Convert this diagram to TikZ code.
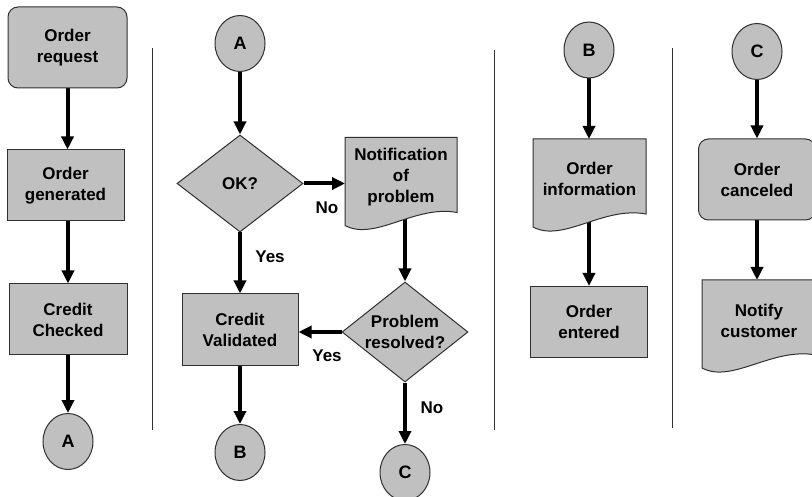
\documentclass[tikz,border=0pt]{standalone}
\usepackage{fontspec}
\setmainfont{Liberation Sans}
\usetikzlibrary{shapes.geometric,arrows.meta,calc}
\pgfdeclarelayer{bg}
\pgfsetlayers{bg,main}
\definecolor{boxfill}{HTML}{C0C0C0}
\definecolor{boxline}{HTML}{303030}
\tikzset{
  txtfont/.style={font=\fontsize{17}{21}\selectfont\bfseries},
  base/.style={fill=boxfill, draw=boxline, line width=1pt, txtfont, align=center, inner sep=0pt},
  procbox/.style={base, rectangle, minimum width=#1, minimum height=71},
  roundbox/.style={base, rectangle, rounded corners=10pt, minimum width=#1, minimum height=81},
  decision/.style={base, diamond, aspect=1.26, inner sep=-6pt, minimum width=126, minimum height=#1},
  connector/.style={base, ellipse, minimum width=50, minimum height=56, font=\fontsize{18}{21}\selectfont\bfseries},
  docbox/.style={rectangle, draw=none, fill=none, inner sep=0pt, outer sep=0pt, minimum width=#1, minimum height=88},
  docfill/.style={fill=boxfill, draw=boxline, line width=1pt},
  doctext/.style={txtfont, align=center, inner sep=0pt},
  lbl/.style={txtfont, inner sep=0pt},
  arr/.style={line width=4pt, -{Triangle[width=12pt,length=13pt]}},
  divider/.style={line width=1pt, draw=boxline},
}
\newcommand\docshape[1]{%
  \path[docfill] (#1.north west) -- (#1.north east) -- ([yshift=13pt]#1.south east)
    .. controls ($(#1.south west)+(70,-21)$) and ($(#1.south west)+(30,16)$) .. (#1.south west) -- cycle;}
\begin{document}
\begin{tikzpicture}[x=1pt,y=-1pt]
\useasboundingbox (0,0) rectangle (812,497);
% dividers
\draw[divider] (152,48) -- (152,430);
\draw[divider] (494,50) -- (494,430);
\draw[divider] (672,48) -- (672,428);
% column 1
\node[roundbox=119] (req) at (67.5,47.5) {Order\\request};
\node[procbox=117] (gen) at (65.5,185.5) {Order\\generated};
\node[procbox=118] (chk) at (68,319.5) {Credit\\Checked};
\node[connector] (a1) at (68,441.5) {A};
% column 2
\node[connector] (a2) at (240,43.5) {A};
\node[decision=97] (ok) at (240,183.5) {OK?};
\node[docbox=112] (notif) at (401,181.5) {};
\node[procbox=116] (cv) at (240,329.5) {Credit\\Validated};
\node[decision=100] (pr) at (405,332) {Problem\\resolved?};
\node[connector] (b2) at (240,452.5) {B};
\node[connector] (c2) at (405,472.5) {C};
% column 3
\node[connector] (b3) at (589,50) {B};
\node[docbox=113] (info) at (589.5,183) {};
\node[procbox=117] (ent) at (589,322) {Order\\entered};
% column 4
\node[connector] (c4) at (757,51.5) {C};
\node[roundbox=117] (canc) at (757,179.5) {Order\\canceled};
\node[docbox=114] (notify) at (759,324) {};
% document shapes
\docshape{notif}
\docshape{info}
\docshape{notify}
\node[doctext] (notiftxt) at ($(notif)+(0,-4.5)$) {Notification\\of\\problem};
\node[doctext] (infotxt) at ($(info)+(0,-4.5)$) {Order\\information};
\node[doctext] (notifytxt) at ($(notify)+(0,-3.5)$) {Notify\\customer};
% labels
\node[lbl] (lno1) at (327,208) {No};
\node[lbl] (lyes1) at (270,257) {Yes};
\node[lbl] (lyes2) at (327,356) {Yes};
\node[lbl] (lno2) at (432,408) {No};
% connectors
\begin{pgfonlayer}{bg}
\draw[arr] (req.south) -- (req.south |- gen.north);
\draw[arr] (chk.north |- gen.south) -- (chk.north);
\draw[arr] (chk.south) -- (a1.north);
\draw[arr] (a2.south) -- (ok.north);
\draw[arr] (ok.east) -- (ok.east -| notif.west);
\draw[arr] (notif.center -| pr.north) -- (pr.north);
\draw[arr] (ok.south) -- (cv.north);
\draw[arr] (pr.west) -- (pr.west -| cv.east);
\draw[arr] (cv.south) -- (b2.north);
\draw[arr] (pr.south) -- (c2.north);
\draw[arr] (b3.south) -- (b3.south |- info.north);
\draw[arr] (info.center -| ent.north) -- (ent.north);
\draw[arr] (c4.south) -- (c4.south |- canc.north);
\draw[arr] (canc.south) -- (canc.south |- notify.north);
\end{pgfonlayer}
\end{tikzpicture}
\end{document}
